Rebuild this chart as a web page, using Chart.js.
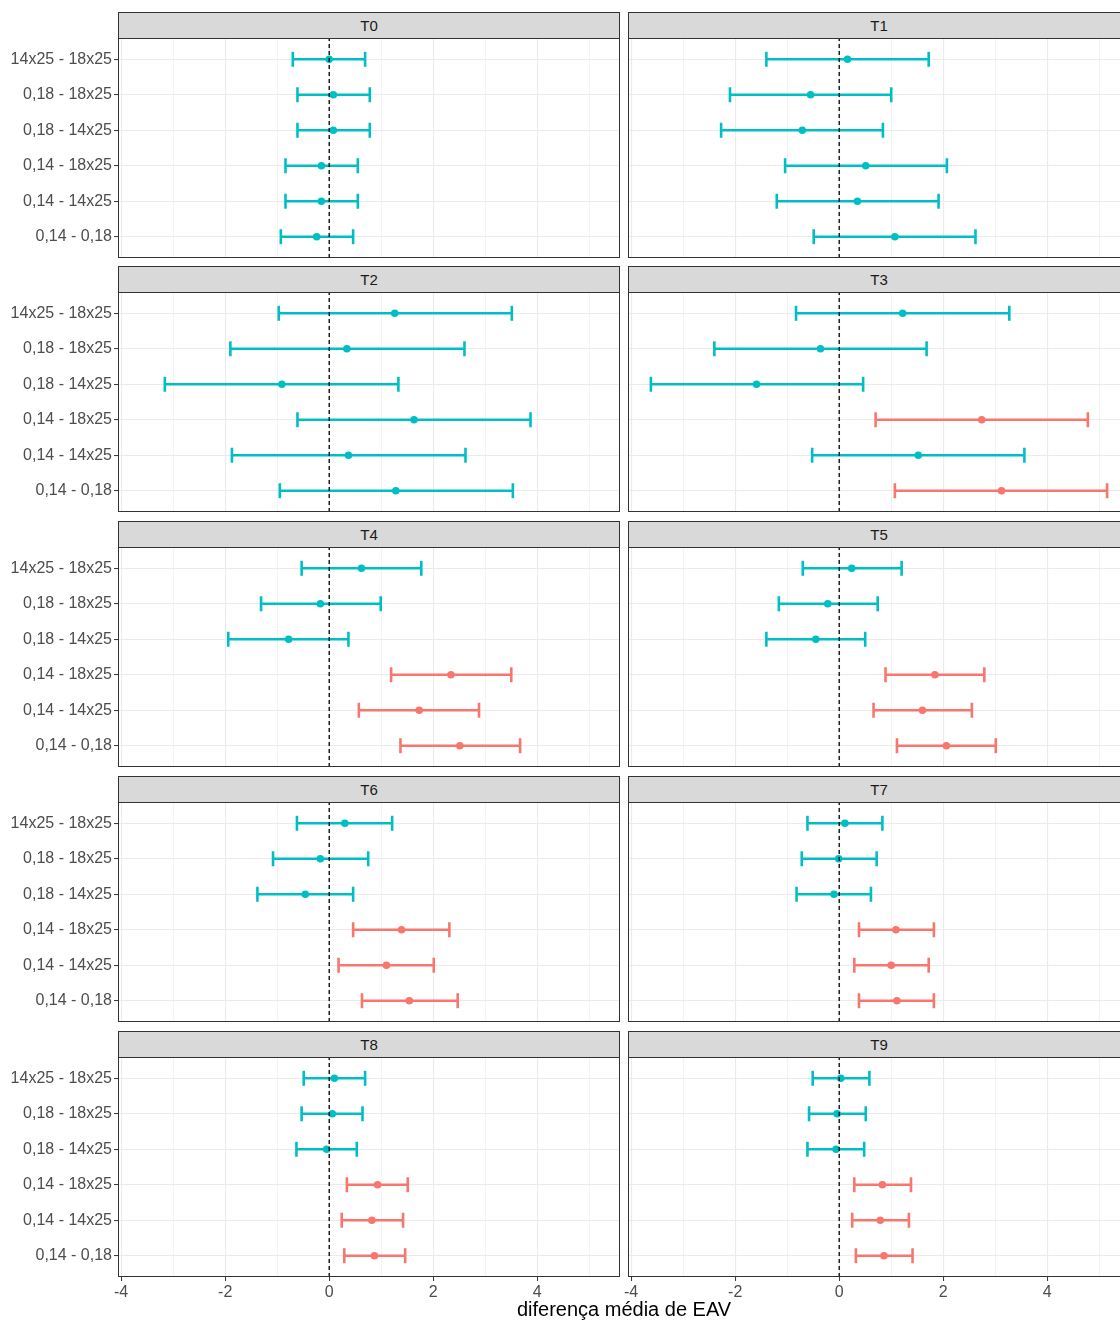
<!DOCTYPE html>
<html>
<head>
<meta charset="utf-8">
<script src="https://cdn.jsdelivr.net/npm/chart.js@4.4.1/dist/chart.umd.min.js"></script>
<style>
  html, body { margin: 0; padding: 0; background: #fff; overflow: hidden; }
  #wrap { position: relative; width: 1140px; height: 1320px; }
  #wrap canvas { position: absolute; }
  .strip {
    position: absolute; box-sizing: border-box; height: 27px;
    background: #D9D9D9; border: 1px solid #333;
    font: 15px "Liberation Sans", Arial, sans-serif; color: #1A1A1A;
    text-align: center; line-height: 25px;
  }
  .xtitle {
    position: absolute; left: 374px; width: 500px; top: 1298px;
    text-align: center; font: 20px "Liberation Sans", Arial, sans-serif; color: #000;
    line-height: 23px;
  }
</style>
</head>
<body>
<div id="wrap"></div>
<script>
// Facet labels (one panel per time point)
const panelNames = ['T0', 'T1', 'T2', 'T3', 'T4', 'T5', 'T6', 'T7', 'T8', 'T9'];

// Pairwise comparisons, listed from top to bottom of each panel
const comparisons = ['14x25 - 18x25', '0,18 - 18x25', '0,18 - 14x25',
                     '0,14 - 18x25', '0,14 - 14x25', '0,14 - 0,18'];

// Mean difference for each panel (rows follow panelNames, columns follow comparisons)
const meanDiff = [
  [ 0.00,  0.08,  0.08, -0.15, -0.15, -0.24],
  [ 0.16, -0.55, -0.71,  0.51,  0.35,  1.07],
  [ 1.26,  0.34, -0.91,  1.63,  0.37,  1.28],
  [ 1.22, -0.36, -1.59,  2.74,  1.52,  3.12],
  [ 0.62, -0.17, -0.78,  2.34,  1.73,  2.51],
  [ 0.24, -0.22, -0.45,  1.84,  1.60,  2.06],
  [ 0.30, -0.17, -0.46,  1.39,  1.10,  1.54],
  [ 0.11, -0.01, -0.10,  1.09,  1.00,  1.11],
  [ 0.10,  0.06, -0.05,  0.93,  0.82,  0.87],
  [ 0.03, -0.04, -0.06,  0.83,  0.79,  0.86]
];

// Lower confidence limits
const ciLower = [
  [-0.70, -0.61, -0.61, -0.84, -0.84, -0.93],
  [-1.40, -2.10, -2.27, -1.04, -1.20, -0.49],
  [-0.97, -1.90, -3.16, -0.61, -1.87, -0.95],
  [-0.83, -2.40, -3.62,  0.70, -0.52,  1.07],
  [-0.53, -1.31, -1.94,  1.19,  0.57,  1.37],
  [-0.70, -1.16, -1.40,  0.89,  0.66,  1.11],
  [-0.62, -1.08, -1.38,  0.46,  0.18,  0.63],
  [-0.61, -0.72, -0.82,  0.38,  0.29,  0.38],
  [-0.49, -0.53, -0.63,  0.34,  0.24,  0.29],
  [-0.51, -0.58, -0.61,  0.29,  0.25,  0.32]
];

// Upper confidence limits
const ciUpper = [
  [ 0.69,  0.78,  0.78,  0.55,  0.55,  0.46],
  [ 1.72,  1.00,  0.84,  2.07,  1.91,  2.62],
  [ 3.51,  2.60,  1.33,  3.87,  2.62,  3.53],
  [ 3.27,  1.68,  0.46,  4.78,  3.56,  5.15],
  [ 1.77,  0.99,  0.37,  3.50,  2.88,  3.67],
  [ 1.20,  0.74,  0.50,  2.79,  2.55,  3.01],
  [ 1.21,  0.75,  0.46,  2.31,  2.01,  2.47],
  [ 0.83,  0.72,  0.61,  1.82,  1.72,  1.82],
  [ 0.69,  0.64,  0.53,  1.51,  1.42,  1.46],
  [ 0.58,  0.51,  0.48,  1.38,  1.34,  1.41]
];

// Shared x axis: break positions (even = labelled major, odd = minor) and limits
const xTicks = [-4, -3, -2, -1, 0, 1, 2, 3, 4, 5];
const xLimits = [-4.06, 5.59];
const xTitle = 'diferença média de EAV';

// ---- layout & style ----
const TEAL = '#00BFC4', SALMON = '#F8766D';
const FONT = '"Liberation Sans", Arial, sans-serif';
const PANEL_W = 502, PANEL_H = 220, STRIP_H = 26, PAD = 12;
const colLeft = [118, 628];
const rowTop = [38, 292, 547, 802, 1057];

const wrap = document.getElementById('wrap');

// Panel border drawn around the plotting area
const framePlugin = {
  id: 'panelFrame',
  afterDraw(chart) {
    const a = chart.chartArea, ctx = chart.ctx;
    ctx.save();
    ctx.strokeStyle = '#333333';
    ctx.lineWidth = 1;
    ctx.strokeRect(a.left + 0.5, a.top + 0.5, a.right - a.left - 1, a.bottom - a.top - 1);
    ctx.restore();
  }
};

const strips = [];

panelNames.forEach((name, p) => {
  const col = p % 2, row = Math.floor(p / 2);
  const showY = col === 0, showX = row === rowTop.length - 1;
  const axisW = showY ? 118 : 20;
  const bottomH = showX ? 40 : 0;
  const padBottom = showX ? 0 : PAD;

  const canvas = document.createElement('canvas');
  canvas.width = axisW + PANEL_W;
  canvas.height = PAD + PANEL_H + bottomH + padBottom;
  canvas.style.left = (colLeft[col] - axisW) + 'px';
  canvas.style.top = (rowTop[row] - PAD) + 'px';
  wrap.appendChild(canvas);

  // strip label above the panel
  const strip = document.createElement('div');
  strip.className = 'strip';
  strip.style.left = colLeft[col] + 'px';
  strip.style.top = (rowTop[row] - STRIP_H) + 'px';
  strip.style.width = PANEL_W + 'px';
  strip.textContent = name;
  strips.push(strip);

  const n = comparisons.length;
  const datasets = [];
  const pointColors = [];
  const points = [];

  comparisons.forEach((c, i) => {
    const y = n - i;
    const lo = ciLower[p][i], hi = ciUpper[p][i], m = meanDiff[p][i];
    const color = (lo > 0 || hi < 0) ? SALMON : TEAL;
    // error bar: horizontal segment with vertical caps at both ends
    datasets.push({
      data: [{ x: lo, y }, { x: hi, y }],
      showLine: true,
      borderColor: color,
      borderWidth: 2.6,
      pointStyle: 'line',
      pointRotation: 90,
      pointRadius: 7.5,
      pointHoverRadius: 7.5,
      pointBorderWidth: 2.6,
      pointBorderColor: color,
      order: 3
    });
    points.push({ x: m, y });
    pointColors.push(color);
  });

  // mean points
  datasets.push({
    data: points,
    pointRadius: 3.8,
    pointHoverRadius: 3.8,
    pointBorderWidth: 0,
    pointBackgroundColor: pointColors,
    pointBorderColor: pointColors,
    order: 2
  });

  // dashed reference line at zero
  datasets.push({
    data: [{ x: 0, y: 0.4 }, { x: 0, y: n + 0.6 }],
    showLine: true,
    borderColor: '#000000',
    borderWidth: 1.3,
    borderDash: [4, 3],
    pointRadius: 0,
    pointHoverRadius: 0,
    order: 1
  });

  new Chart(canvas, {
    type: 'scatter',
    data: { datasets },
    plugins: [framePlugin],
    options: {
      responsive: false,
      animation: false,
      events: [],
      layout: { padding: { top: PAD, bottom: padBottom, left: 0, right: 0 }, autoPadding: false },
      plugins: { legend: { display: false }, tooltip: { enabled: false } },
      scales: {
        x: {
          type: 'linear',
          min: xLimits[0],
          max: xLimits[1],
          afterBuildTicks: s => { s.ticks = xTicks.map(v => ({ value: v })); },
          afterFit: s => { s.height = bottomH; },
          border: { display: false },
          grid: {
            color: ctx => (ctx.tick && ctx.tick.value % 2 === 0) ? '#EBEBEB' : '#F3F3F3',
            lineWidth: ctx => (ctx.tick && ctx.tick.value % 2 === 0) ? 1.1 : 1,
            drawTicks: showX,
            tickLength: 4,
            tickWidth: 1,
            tickColor: ctx => (ctx.tick && ctx.tick.value % 2 === 0) ? '#333333' : 'rgba(0,0,0,0)'
          },
          ticks: {
            display: showX,
            autoSkip: false,
            maxRotation: 0,
            padding: 2,
            color: '#4D4D4D',
            font: { family: FONT, size: 16 },
            callback: v => (v % 2 === 0 ? String(v) : '')
          }
        },
        y: {
          type: 'linear',
          min: 0.4,
          max: n + 0.6,
          afterBuildTicks: s => { s.ticks = comparisons.map((c, i) => ({ value: n - i })); },
          afterFit: s => { s.width = axisW; },
          border: { display: false },
          grid: {
            color: '#EBEBEB',
            lineWidth: 1.1,
            drawTicks: showY,
            tickLength: 4,
            tickWidth: 1,
            tickColor: '#333333'
          },
          ticks: {
            display: showY,
            autoSkip: false,
            padding: 2,
            color: '#4D4D4D',
            font: { family: FONT, size: 16 },
            callback: v => comparisons[n - v]
          }
        }
      }
    }
  });
});

strips.forEach(s => wrap.appendChild(s));

const title = document.createElement('div');
title.className = 'xtitle';
title.textContent = xTitle;
wrap.appendChild(title);
</script>
</body>
</html>
